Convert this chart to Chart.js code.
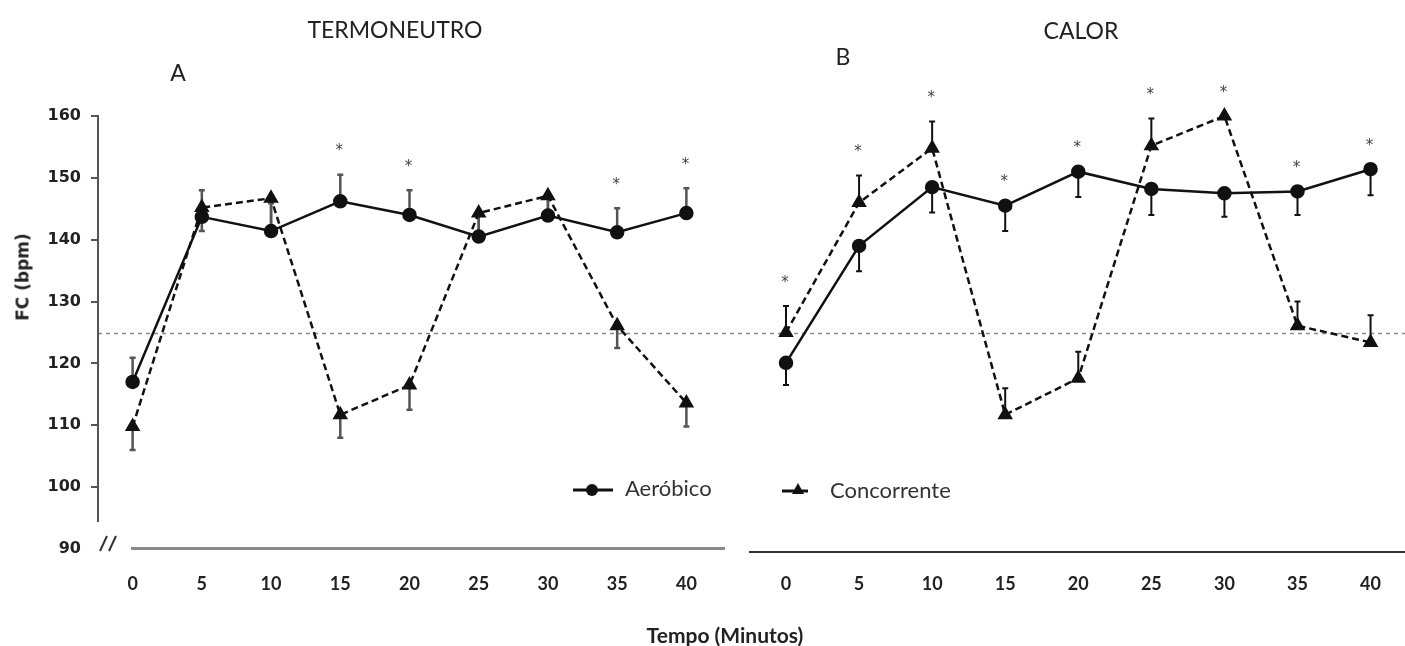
<!DOCTYPE html>
<html><head><meta charset="utf-8">
<script src="https://cdn.jsdelivr.net/npm/chart.js@4.4.1/dist/chart.umd.min.js"></script>
<style>
html,body{margin:0;padding:0;background:#fff;overflow:hidden;}
#wrap{position:relative;width:1405px;height:646px;background:#fff;}
canvas{position:absolute;top:0;}
.t{position:absolute;font-family:Lato,"Open Sans",sans-serif;color:#222;white-space:nowrap;line-height:1;transform:translate(-50%,-50%);}
.lg{position:absolute;font-family:Lato,"Open Sans",sans-serif;color:#333;font-size:22px;line-height:1;white-space:nowrap;transform:translateY(-50%);}
svg{position:absolute;}
</style></head><body>
<div id="wrap">
<canvas id="cT" width="730" height="646" style="left:0;width:730px;height:646px"></canvas>
<canvas id="cC" width="675" height="646" style="left:730px;width:675px;height:646px"></canvas>
<div class="t" style="left:395px;top:29px;font-size:23px">TERMONEUTRO</div>
<div class="t" style="left:1081px;top:30px;font-size:23px">CALOR</div>
<div class="t" style="left:178px;top:72px;font-size:23px">A</div>
<div class="t" style="left:843px;top:56px;font-size:23px">B</div>
<div class="t" style="left:23px;top:277px;font-family:'DejaVu Sans',sans-serif;font-weight:bold;font-size:17px;transform:translate(-50%,-50%) rotate(-90deg)">FC (bpm)</div>
<div class="t" style="left:725px;top:634px;font-weight:bold;font-size:21px">Tempo (Minutos)</div>
<svg style="left:571px;top:482px" width="46" height="16"><line x1="2" y1="8" x2="42" y2="8" stroke="#111" stroke-width="3"/><circle cx="21" cy="8" r="6" fill="#111"/></svg>
<div class="lg" style="left:625px;top:488px">Aeróbico</div>
<svg style="left:780px;top:482px" width="32" height="16"><line x1="2" y1="9" x2="28" y2="9" stroke="#111" stroke-width="3"/><polygon points="18,1 24,12 12,12" fill="#111"/></svg>
<div class="lg" style="left:830px;top:490px">Concorrente</div>
</div>
<script>
// ---- data ----
const minutes = ['0','5','10','15','20','25','30','35','40'];
const yTicks = [90,100,110,120,130,140,150,160];
const refValue = 125;

// Termoneutro (A)
const aeroT    = [117.0,143.7,141.4,146.2,144.0,140.5,143.9,141.2,144.3];
const aeroErrT = [3.9,4.3,4.5,4.3,4.0,3.8,3.2,3.9,4.0];
const concT    = [109.8,145.2,146.7,111.7,116.5,144.3,147.1,126.1,113.6];
const concErrT = [3.8,3.8,4.8,3.7,4.0,3.8,3.2,3.6,3.8];
const sigT     = [false,false,false,true,true,false,false,true,true];

// Calor (B)
const aeroC    = [120.1,139.0,148.5,145.5,151.0,148.2,147.5,147.8,151.4];
const aeroErrC = [3.6,4.1,4.1,4.1,4.1,4.2,3.8,3.8,4.2];
const concC    = [125.0,146.0,154.8,111.7,117.6,155.2,160.0,126.1,123.4];
const concErrC = [4.3,4.4,4.3,4.3,4.3,4.4,0,3.9,4.4];
const sigC     = [true,true,true,true,true,true,true,true,true];

const extras = {
  id:'extras',
  beforeDatasetsDraw(chart, args, o){
    const ctx = chart.ctx, x = chart.scales.x, y = chart.scales.y;
    ctx.save();
    ctx.strokeStyle = '#8a8a8a'; ctx.lineWidth = 1.5; ctx.setLineDash([4,4]);
    const ry = Math.round(y.getPixelForValue(refValue)) + 0.5;
    ctx.beginPath(); ctx.moveTo(o.refFrom, ry); ctx.lineTo(chart.width, ry); ctx.stroke();
    ctx.restore();
    chart.data.datasets.forEach(ds => {
      if (!ds.errors) return;
      ctx.save();
      ctx.strokeStyle = o.errColor; ctx.lineWidth = o.errWidth;
      ds.data.forEach((v, i) => {
        const e = ds.errors[i]; if (!e) return;
        const px = x.getPixelForValue(i);
        const p0 = y.getPixelForValue(v), p1 = y.getPixelForValue(v + ds.errDir * e);
        ctx.beginPath(); ctx.moveTo(px, p0); ctx.lineTo(px, p1);
        ctx.moveTo(px - 3, p1); ctx.lineTo(px + 3, p1); ctx.stroke();
      });
      ctx.restore();
    });
  },
  afterDatasetsDraw(chart, args, o){
    const ctx = chart.ctx, x = chart.scales.x, y = chart.scales.y;
    ctx.save();
    ctx.fillStyle = '#444'; ctx.font = '15px "DejaVu Sans"'; ctx.textAlign = 'center'; ctx.textBaseline = 'alphabetic';
    o.sig.forEach((s, i) => {
      if (!s) return;
      let top = Infinity;
      chart.data.datasets.forEach(ds => {
        const v = ds.data[i] + (ds.errDir > 0 ? ds.errors[i] : 0);
        top = Math.min(top, y.getPixelForValue(v));
      });
      ctx.fillText('*', x.getPixelForValue(i) - 1, top - 28 + 8.7);
    });
    ctx.restore();
    ctx.save();
    const b = o.xLine;
    ctx.strokeStyle = b.color; ctx.lineWidth = b.width;
    ctx.beginPath(); ctx.moveTo(b.from, b.y); ctx.lineTo(b.to, b.y); ctx.stroke();
    if (o.yLine) {
      const lx = chart.chartArea.left;
      ctx.strokeStyle = '#555'; ctx.lineWidth = 2;
      ctx.beginPath(); ctx.moveTo(lx, y.getPixelForValue(yTicks[yTicks.length-1]) - 1); ctx.lineTo(lx, o.yLine.end); ctx.stroke();
      ctx.strokeStyle = '#333'; ctx.lineWidth = 2;
      ctx.beginPath();
      ctx.moveTo(100, 551); ctx.lineTo(107, 536);
      ctx.moveTo(109, 551); ctx.lineTo(116, 536);
      ctx.stroke();
    }
    ctx.restore();
  }
};

function makeChart(id, aero, aeroErr, aeroDir, conc, concErr, concDir, sig, left, cfg){
  return new Chart(document.getElementById(id), {
    type:'line',
    data:{
      labels: minutes,
      datasets:[
        {label:'Aeróbico', data:aero, errors:aeroErr, errDir:aeroDir,
         borderColor:'#111', borderWidth:2.5, pointStyle:'circle', pointRadius:6,
         pointBackgroundColor:'#111', pointBorderColor:'#111', tension:0, clip:false},
        {label:'Concorrente', data:conc, errors:concErr, errDir:concDir,
         borderColor:'#111', borderWidth:2.5, borderDash:[7,4], pointStyle:'triangle', pointRadius:6.5,
         pointBackgroundColor:'#111', pointBorderColor:'#111', tension:0, clip:false}
      ]
    },
    options:{
      responsive:false, animation:false, devicePixelRatio:1,
      events:[],
      layout:{padding:cfg.padding},
      plugins:{legend:{display:false}, tooltip:{enabled:false},
        extras:{sig:sig, refFrom:cfg.refFrom, errColor:cfg.errColor, errWidth:cfg.errWidth, xLine:cfg.xLine, yLine:cfg.yLine}},
      scales:{
        x:{type:'category', offset:cfg.offset,
           grid:{display:false, drawTicks:false}, border:{display:false},
           ticks:{color:'#222', padding:24, font:{family:'Lato', weight:'bold', size:18}, maxRotation:0, autoSkip:false},
           afterFit(s){ s.height = 97; }},
        y:{type:'linear', min:yTicks[0], max:yTicks[yTicks.length-1], display:left,
           afterBuildTicks(s){ s.ticks = yTicks.map(v => ({value:v})); },
           grid:{drawOnChartArea:false, drawTicks:true, tickLength:7, lineWidth:2,
                 color: c => (c.tick && c.tick.value === yTicks[0]) ? 'rgba(0,0,0,0)' : '#555'},
           border:{display:false},
           ticks:{color:'#222', padding:10, font:{family:'DejaVu Sans', weight:'bold', size:16}},
           afterFit(s){ s.width = left ? 98 : 0; }}
      }
    },
    plugins:[extras]
  });
}

makeChart('cT', aeroT, aeroErrT, 1, concT, concErrT, -1, sigT, true, {
  padding:{top:116, left:0, right:3, bottom:0}, offset:true, refFrom:98,
  errColor:'#555', errWidth:2.5,
  xLine:{from:131, to:725, y:548.5, color:'#8a8a8a', width:3},
  yLine:{end:522}
});
makeChart('cC', aeroC, aeroErrC, -1, concC, concErrC, 1, sigC, false, {
  padding:{top:116, left:56, right:25, bottom:0}, offset:false, refFrom:0,
  errColor:'#111', errWidth:2,
  xLine:{from:19, to:675, y:552, color:'#333', width:2},
  yLine:null
});
</script>
</body></html>
